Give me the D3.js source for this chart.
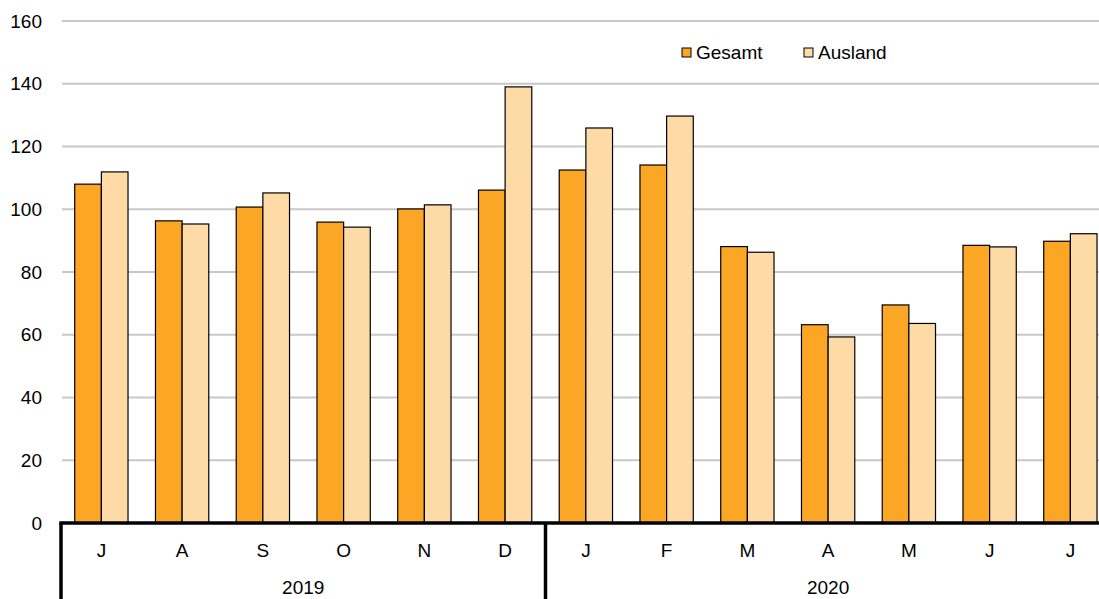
<!DOCTYPE html>
<html><head><meta charset="utf-8">
<script src="https://cdn.jsdelivr.net/npm/d3@7/dist/d3.min.js"></script>
<style>body{margin:0;background:#fff;overflow:hidden}svg{display:block}text{font-family:"Liberation Sans",Arial,sans-serif;fill:#000}</style>
</head><body>
<svg id="c" width="1099" height="599"></svg>
<script>
const months = ["J","A","S","O","N","D","J","F","M","A","M","J","J"];
const years = [{label:"2019", from:0, to:6},{label:"2020", from:6, to:13}];
const gesamt = [108.0,96.3,100.7,95.9,100.1,106.1,112.5,114.1,88.1,63.2,69.5,88.5,89.8];
const ausland = [111.9,95.3,105.2,94.3,101.4,139.0,125.9,129.7,86.3,59.3,63.6,88.0,92.2];
const yTicks = [0,20,40,60,80,100,120,140,160];
const seriesNames = ["Gesamt","Ausland"];
const colors = ["#FBA725","#FEDBA6"];

const svg = d3.select("#c");
const step = 80.75;
const x0 = 61, x1 = 61 + 13*step;
const y = d3.scaleLinear().domain([0,160]).range([523,21]);
const x = d3.scaleBand().domain(d3.range(months.length)).range([x0,x1]).paddingInner(0.34).paddingOuter(0.17);
const xs = d3.scaleBand().domain([0,1]).range([0,x.bandwidth()]);
const fs = 19;

// gridlines
svg.append("g").selectAll("line").data(yTicks).join("line")
  .attr("x1",x0+1).attr("x2",1099).attr("y1",d=>y(d)).attr("y2",d=>y(d))
  .attr("stroke","#c8c8c8").attr("stroke-width",2);

// y labels
svg.append("g").selectAll("text").data(yTicks).join("text")
  .attr("x",42).attr("y",d=>y(d)).attr("dy","0.35em").attr("text-anchor","end")
  .attr("font-size",fs).text(d=>d);

// bars
const data = months.map((m,i)=>({i, vals:[gesamt[i],ausland[i]]}));
const g = svg.append("g").selectAll("g").data(data).join("g")
  .attr("transform",d=>`translate(${x(d.i)},0)`);
g.selectAll("rect").data(d=>d.vals.map((v,k)=>({v,k}))).join("rect")
  .attr("x",d=>xs(d.k)).attr("width",xs.bandwidth())
  .attr("y",d=>y(d.v)).attr("height",d=>y(0)-y(d.v))
  .attr("fill",d=>colors[d.k]).attr("stroke","#000").attr("stroke-width",1.2);

// axis line
svg.append("line").attr("x1",x0-1.75).attr("x2",1099).attr("y1",y(0)).attr("y2",y(0))
  .attr("stroke","#000").attr("stroke-width",3.5);
// vertical separators
const bounds = [0,6];
svg.append("g").selectAll("line").data(bounds).join("line")
  .attr("x1",d=>x0 + d*step).attr("x2",d=>x0 + d*step)
  .attr("y1",y(0)).attr("y2",599).attr("stroke","#000").attr("stroke-width",3.5);

// month labels
svg.append("g").selectAll("text").data(months).join("text")
  .attr("x",(d,i)=>x(i)+x.bandwidth()/2).attr("y",550).attr("dy","0.35em")
  .attr("text-anchor","middle").attr("font-size",fs).text(d=>d);
// year labels
svg.append("g").selectAll("text").data(years).join("text")
  .attr("x",d=>x0 + (d.from+d.to)/2*step).attr("y",587).attr("dy","0.35em")
  .attr("text-anchor","middle").attr("font-size",fs).text(d=>d.label);

// legend
const legX = [682,804];
const lg = svg.append("g").selectAll("g").data(seriesNames).join("g")
  .attr("transform",(d,i)=>`translate(${legX[i]},48)`);
lg.append("rect").attr("width",9).attr("height",9).attr("fill",(d,i)=>colors[i])
  .attr("stroke","#000").attr("stroke-width",1);
lg.append("text").attr("x",14).attr("y",4.5).attr("dy","0.35em").attr("font-size",fs).text(d=>d);
</script>
</body></html>
